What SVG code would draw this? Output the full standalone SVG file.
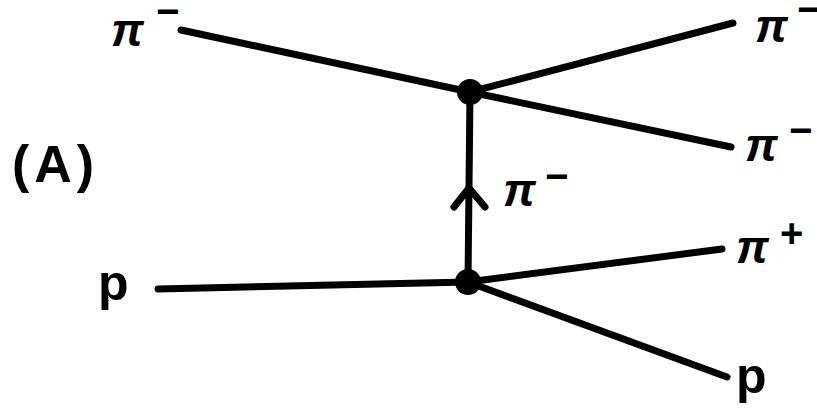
<svg xmlns="http://www.w3.org/2000/svg" width="817" height="409" viewBox="0 0 817 409">
<style>
.ln{stroke:#000;stroke-width:7;stroke-linecap:round;fill:none}
.t{font-family:"Liberation Sans",Arial,sans-serif;font-weight:bold;fill:#000}
.pi{font-size:46px;font-style:italic}
.sup{font-size:40px}
</style>
<rect width="817" height="409" fill="#fff"/>
<g id="connectors">
<line class="ln" x1="181" y1="30" x2="470" y2="92"/>
<line class="ln" x1="470" y1="92" x2="733" y2="23"/>
<line class="ln" x1="470" y1="92" x2="731" y2="147"/>
<line class="ln" x1="470" y1="92" x2="468" y2="282"/>
<polyline class="ln" points="454,207 469,188 485,207"/>
<line class="ln" x1="158" y1="289" x2="468" y2="282"/>
<line class="ln" x1="468" y1="282" x2="722" y2="249"/>
<line class="ln" x1="468" y1="282" x2="727" y2="377"/>
</g>
<g id="vertex-top"><circle cx="470" cy="92" r="13"/></g>
<g id="vertex-bottom"><circle cx="468" cy="282" r="13"/></g>
<g id="label-pi-in"><text class="t pi" x="111" y="46">π</text><text class="t sup" x="156" y="25">−</text></g>
<g id="label-p-in"><text class="t" font-size="50" x="98" y="300">p</text></g>
<g id="label-A"><text class="t" font-size="52" letter-spacing="5" x="12" y="182">(A)</text></g>
<g id="label-pi-exchange"><text class="t pi" x="503" y="206">π</text><text class="t sup" x="545" y="190">−</text></g>
<g id="label-pi-out1"><text class="t pi" x="755" y="42">π</text><text class="t sup" x="797" y="23">−</text></g>
<g id="label-pi-out2"><text class="t pi" x="745" y="161">π</text><text class="t sup" x="789" y="144">−</text></g>
<g id="label-pi-plus"><text class="t pi" x="736" y="263">π</text><text class="t sup" x="780" y="247">+</text></g>
<g id="label-p-out"><text class="t" font-size="50" x="736" y="393">p</text></g>
</svg>
